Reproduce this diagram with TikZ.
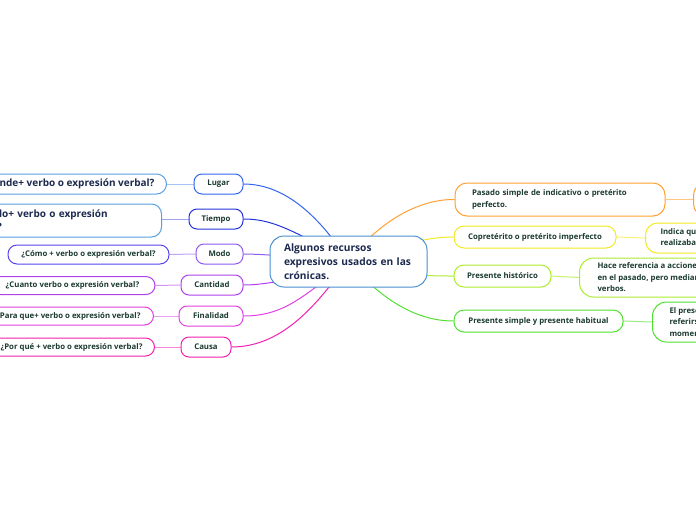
\documentclass[tikz,border=0pt]{standalone}
\usepackage{fontspec}
\setmainfont{Open Sans}
\usetikzlibrary{backgrounds}
\definecolor{tgreen}{HTML}{1B3B2F}
\definecolor{tnavy}{HTML}{1C2A4F}
\definecolor{cblue}{HTML}{4A90D0}
\definecolor{lugarc}{HTML}{3366EE}
\definecolor{tiempoc}{HTML}{2233DD}
\definecolor{modoc}{HTML}{8F5CF0}
\definecolor{modoleaf}{HTML}{5544EE}
\definecolor{cantc}{HTML}{B040EE}
\definecolor{finc}{HTML}{E040E0}
\definecolor{causc}{HTML}{F020B0}
\definecolor{leafblue}{HTML}{5AA0E0}
\definecolor{orangec}{HTML}{FFA030}
\definecolor{yellowc}{HTML}{F2EA20}
\definecolor{limec}{HTML}{ACEC2C}
\definecolor{greenc}{HTML}{50E030}
\tikzset{
  box/.style={draw, fill=white, line width=1pt, rounded corners=8pt, inner sep=0pt,
    text=tgreen, font=\bfseries\fontsize{7.8}{11.5}\selectfont},
  bigleaf/.style={box, rounded corners=10pt, text=tnavy, font=\bfseries\fontsize{10}{13}\selectfont},
  link/.style={line width=1pt},
}
\begin{document}
\begin{tikzpicture}[x=1pt,y=-1pt]
\useasboundingbox (0,0) rectangle (696,520);
\clip (0,0) rectangle (696,520);
% central
\node[box, draw=cblue, rounded corners=14pt, minimum width=157pt, minimum height=51pt,
  text width=129pt, align=left, text=tnavy, font=\bfseries\fontsize{10.2}{14}\selectfont]
  (c) at (348.5,261.5) {Algunos recursos\\expresivos usados en las\\crónicas.};
% left categories
\node[box, draw=lugarc, minimum width=49pt, minimum height=20pt] (lugar) at (218.5,184) {Lugar};
\node[box, draw=tiempoc, minimum width=54pt, minimum height=20pt] (tiempo) at (216,219) {Tiempo};
\node[box, draw=modoc, minimum width=47pt, minimum height=20pt] (modo) at (219.5,254) {Modo};
\node[box, draw=cantc, minimum width=62pt, minimum height=20pt] (cant) at (212,285) {Cantidad};
\node[box, draw=finc, minimum width=64pt, minimum height=20pt] (fin) at (211,316) {Finalidad};
\node[box, draw=causc, minimum width=50pt, minimum height=20pt] (causa) at (206,347) {Causa};
% left leaves
\node[bigleaf, draw=leafblue, anchor=east, minimum height=20pt, inner xsep=12pt] (lugarL) at (167,184) {¿Dónde+ verbo o expresión verbal?};
\node[bigleaf, draw=leafblue, anchor=west, minimum height=33pt, inner xsep=10pt, text width=186pt, align=left] (tiempoL) at (-45,220.5) {¿Cuándo+ verbo o expresión\\verbal?};
\node[box, draw=modoleaf, minimum width=161pt, minimum height=19pt, rounded corners=9pt] (modoL) at (88.5,254.5) {¿Cómo + verbo o expresión verbal?};
\node[box, draw=cantc, minimum width=165pt, minimum height=18pt, rounded corners=9pt] (cantL) at (72.5,285.5) {¿Cuanto verbo o expresión verbal?};
\node[box, draw=finc, anchor=east, minimum height=18pt, inner xsep=13pt, rounded corners=9pt] (finL) at (154,316) {¿Para que+ verbo o expresión verbal?};
\node[box, draw=causc, anchor=east, minimum height=18pt, inner xsep=12pt, rounded corners=9pt] (causaL) at (155,347) {¿Por qué + verbo o expresión verbal?};
% right categories
\node[box, draw=orangec, rounded corners=12pt, minimum width=210pt, minimum height=33pt, text width=176pt, align=left] (pas) at (560,199.5) {Pasado simple de indicativo o pretérito\\perfecto.};
\node[box, draw=yellowc, rounded corners=10pt, minimum width=162pt, minimum height=22pt] (cop) at (535,237) {Copretérito o pretérito imperfecto};
\node[box, draw=limec, rounded corners=10pt, minimum width=97pt, minimum height=22pt] (his) at (502.5,276) {Presente histórico};
\node[box, draw=greenc, rounded corners=10pt, minimum width=169pt, minimum height=22pt] (sim) at (538.5,321) {Presente simple y presente habitual};
% right leaves (cut by the edge)
\node[box, draw=orangec, rounded corners=12pt, anchor=west, minimum width=80pt, minimum height=33pt] (pasL) at (693,199.5) {};
\node[box, draw=yellowc, rounded corners=12pt, anchor=west, minimum height=30pt, inner xsep=15pt, align=left] (copL) at (645,238) {Indica que una acción se\\realizaba en el pasado.};
\node[box, draw=limec, rounded corners=14pt, anchor=west, minimum height=39pt, inner xsep=18pt, align=left] (hisL) at (579,277.5) {Hace referencia a acciones ocurridas\\en el pasado, pero mediante el presente en los\\verbos.};
\node[box, draw=greenc, rounded corners=14pt, anchor=west, minimum height=40pt, inner xsep=17pt, align=left] (simL) at (652,322) {El presente simple sirve para\\referirse a acciones del\\momento actual.};
\begin{pgfonlayer}{background}
% central to categories
\draw[link, lugarc] (lugar.east) .. controls (290,184) and (325,225) .. (c.center);
\draw[link, tiempoc] (tiempo.east) .. controls (270,219) and (290,228) .. (c.center);
\draw[link, modoc] (modo.east) .. controls (262,254) and (300,257) .. (c.center);
\draw[link, cantc] (cant.east) .. controls (265,285) and (300,279) .. (c.center);
\draw[link, finc] (fin.east) .. controls (285,316) and (305,295) .. (c.center);
\draw[link, causc] (causa.east) .. controls (285,347) and (320,300) .. (c.center);
\draw[link, orangec] (c.center) .. controls (380,220) and (420,199) .. (pas.west);
\draw[link, yellowc] (c.center) .. controls (400,245) and (425,237) .. (cop.west);
\draw[link, limec] (c.center) .. controls (400,276) and (430,276) .. (his.west);
\draw[link, greenc] (c.center) .. controls (375,292) and (410,321) .. (sim.west);
% categories to leaves
\draw[link, leafblue!60!lugarc!50] (lugarL.east) -- (lugar.west);
\draw[link, tiempoc!45] (tiempoL.east |- tiempo.west) -- (tiempo.west);
\draw[link, modoc!55] (modoL.east) -- (modo.west);
\draw[link, cantc!55] (cantL.east) -- (cant.west);
\draw[link, finc!50] (finL.east) -- (fin.west);
\draw[link, causc!55] (causaL.east) -- (causa.west);
\draw[link, orangec!60] (pas.east) -- (pasL.west);
\draw[link, yellowc!60] (cop.east) -- (copL.west);
\draw[link, limec!70] (his.east) -- (hisL.west);
\draw[link, greenc!60] (sim.east) -- (simL.west);
\end{pgfonlayer}
\end{tikzpicture}
\end{document}
